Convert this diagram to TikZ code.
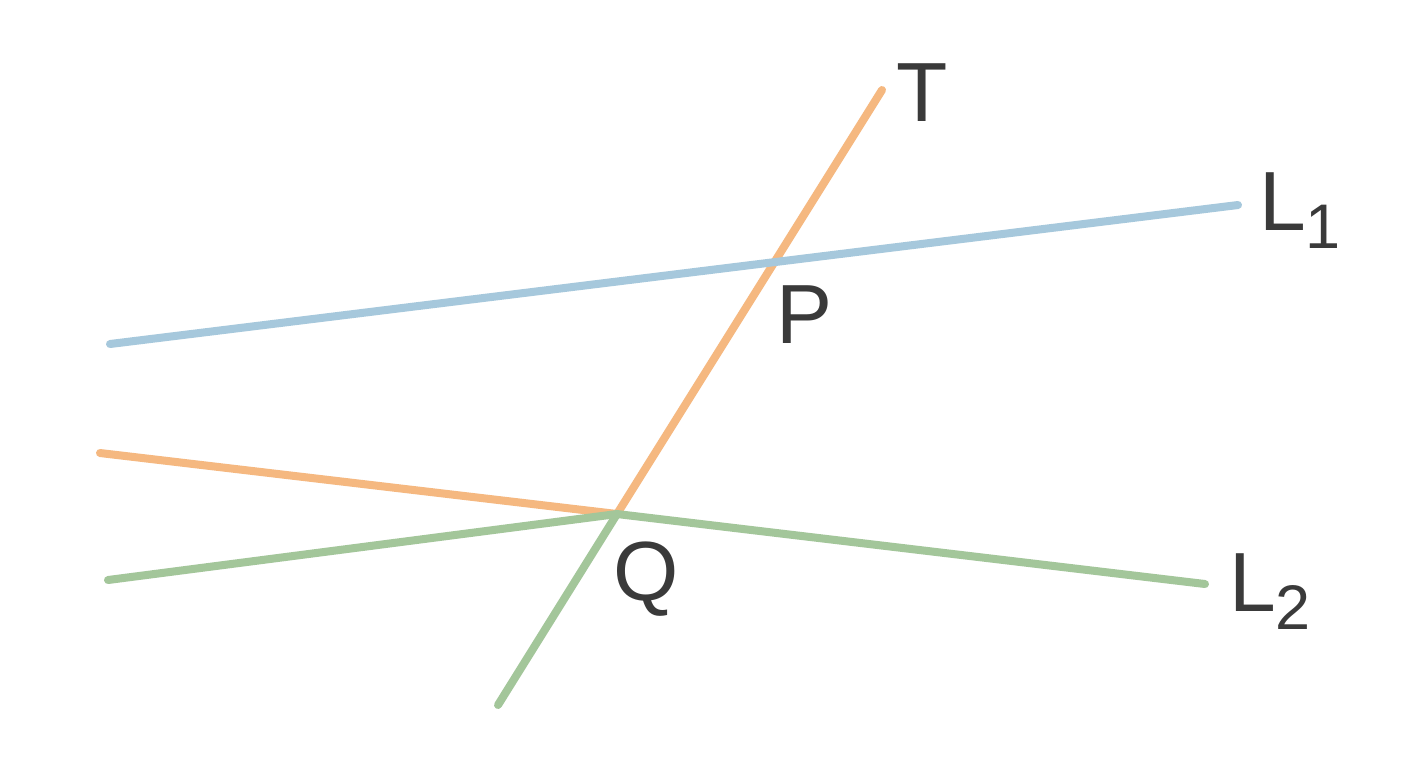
\documentclass[tikz,border=0pt]{standalone}
\usepackage{fontspec}
\setmainfont{Liberation Sans}
\definecolor{lblue}{HTML}{A6C8DC}
\definecolor{lorange}{HTML}{F5B880}
\definecolor{lgreen}{HTML}{A3C69A}
\definecolor{ltext}{HTML}{3A3A3A}
\tikzset{
  seg/.style={line width=4pt, line cap=round, line join=round},
  lbl/.style={anchor=base west, inner sep=0pt, outer sep=0pt, text=ltext, font=\fontsize{42}{42}\selectfont},
}
\newcommand{\subtxt}[1]{\raisebox{-9pt}{\fontsize{31.5}{31.5}\selectfont #1}}
\begin{document}
\begin{tikzpicture}[x=0.5pt,y=-0.5pt]
\useasboundingbox[fill=white] (0,0) rectangle (1408,768);
\coordinate (Q) at (617,514);
\coordinate (Tend) at (882,90);
\coordinate (L1a) at (110,344);
\coordinate (L1b) at (1238,205);
\coordinate (Oa) at (100,453);
\coordinate (Ga) at (108,580);
\coordinate (Gb) at (1205,584);
\coordinate (Gc) at (498,705);
% orange
\draw[seg, lorange] (Oa) -- (Q);
\draw[seg, lorange] (Tend) -- (Q);
% green
\draw[seg, lgreen] (Ga) -- (Q) -- (Gb);
\draw[seg, lgreen] (Q) -- (Gc);
% blue
\draw[seg, lblue] (L1a) -- (L1b);
% labels
\node[lbl] (tT) at (896,121) {T};
\node[lbl] (tP) at (776,343) {P};
\node[lbl] (tQ) at (613,600) {Q};
\node[lbl] (tL1) at (1259,230) {L\subtxt{1}};
\node[lbl] (tL2) at (1229,611) {L\subtxt{2}};
\end{tikzpicture}
\end{document}
